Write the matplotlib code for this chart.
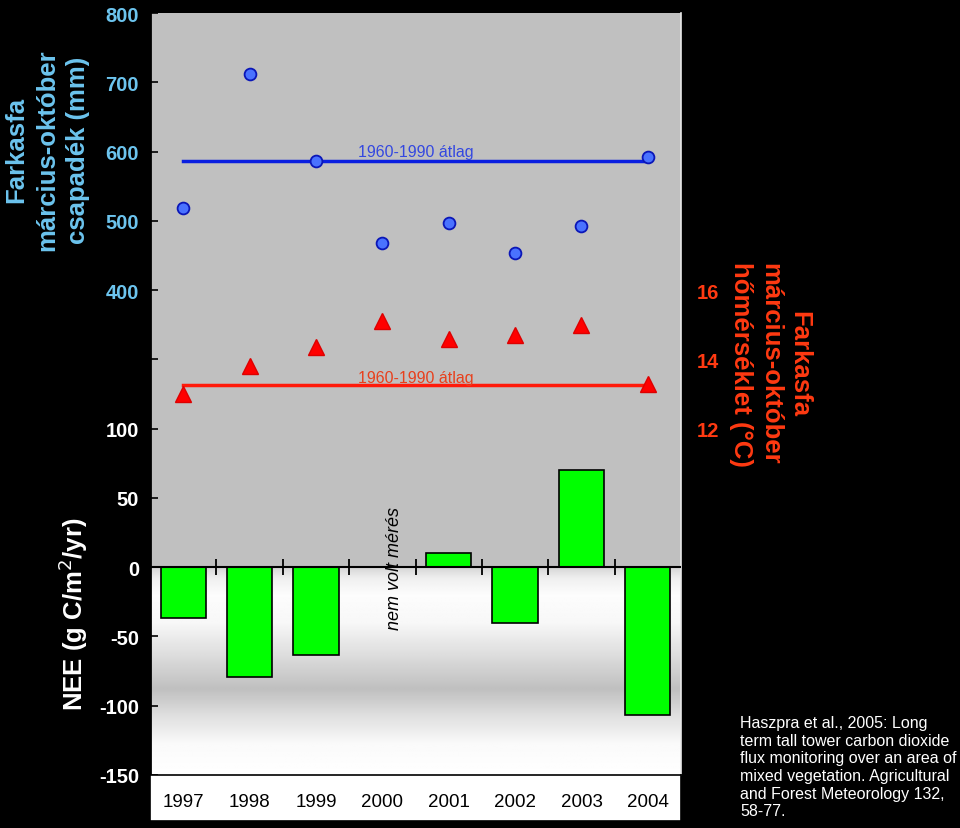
import matplotlib.pyplot as plt
import numpy as np

plt.rcParams['font.family'] = ['Liberation Sans', 'DejaVu Sans']

# adatok (leolvasva az abrarol)
years = [1997, 1998, 1999, 2000, 2001, 2002, 2003, 2004]
nee = [-37, -79, -63.5, np.nan, 10, -40, 70, -107]          # g C/m2/yr
precip = [518, 712, 586, 468, 497, 453, 492, 592]          # mm
temp = [13.0, 13.8, 14.35, 15.1, 14.6, 14.7, 15.0, 13.3]   # °C
precip_avg = 586
temp_avg = 13.25

nee_ticks = [-150, -100, -50, 0, 50, 100, 150, 200, 250, 300, 350, 400]
nee_labels = ['-150', '-100', '-50', '0', '50', '100', '', '400', '500', '600', '700', '800']
temp_ticks = [12, 14, 16]

lightblue = '#6cc4ee'
orange = '#ff3a12'

W, H = 960, 829
fig = plt.figure(figsize=(W / 100, H / 100), dpi=100, facecolor='black')

x0, x1 = 150, 681
ytop, ybot = 14, 776
ax = fig.add_axes([x0 / W, 1 - ybot / H, (x1 - x0) / W, (ybot - ytop) / H])
ax.set_facecolor('#c0c0c0')
ax.set_xlim(1996.5, 2004.5)
ax.set_ylim(-150, 400)

# atmenetes hatter a nulla alatt
stops_v = [0, -8, -20, -40, -65, -88, -108, -128, -150]
stops_g = [0.84, 0.94, 0.99, 0.97, 0.86, 0.75, 0.88, 0.98, 1.0]
vv = np.linspace(0, -150, 200)
col = np.interp(-vv, [-s for s in stops_v], stops_g)
img = np.repeat(col[:, None], 2, axis=1)
ax.imshow(img, cmap='gray', vmin=0, vmax=1, aspect='auto',
          extent=(1996.5, 2004.5, -150, 0), zorder=0, interpolation='bilinear')

ax.bar(years, nee, width=0.68, color='#00ff00', edgecolor='black', lw=1.2, zorder=3)
ax.axhline(0, color='black', lw=1.5, zorder=4)
bounds = [y + 0.5 for y in years[:-1]]
ax.plot(bounds, [0] * len(bounds), ls='none', marker='|', ms=11, mew=1.3,
        color='black', zorder=4)

ax.text(2000.18, 0, 'nem volt mérés', rotation=90, style='italic', fontsize=13,
        ha='center', va='center', color='black', zorder=5)

ax.set_xticks([])
ax.set_yticks(nee_ticks)
ax.set_yticklabels(nee_labels, fontsize=14.5, fontweight='bold')
for lbl, v in zip(ax.get_yticklabels(), nee_ticks):
    lbl.set_color(lightblue if v >= 200 else 'white')
ax.tick_params(axis='y', direction='in', length=6, width=1.2, color='black',
               right=True, pad=8)
for s in ['top', 'bottom']:
    ax.spines[s].set_visible(False)
ax.spines['left'].set_color('black')
ax.spines['left'].set_linewidth(2)
ax.spines['right'].set_color('#e8e8e8')
ax.spines['right'].set_linewidth(1.2)

# csapadek tengely
axp = ax.twinx()
axp.set_ylim(-300, 800)
axp.set_yticks([])
for s in axp.spines.values():
    s.set_visible(False)
axp.plot([years[0], years[-1]], [precip_avg, precip_avg], color='#0a1fe0', lw=2.5, zorder=2)
axp.plot(years, precip, ls='none', marker='o', ms=8.5, mfc='#4a72ff', mec='#0a16b8',
         mew=1.3, zorder=3)
axp.text(2000.5, precip_avg + 3, '1960-1990 átlag', color='#3448e0', fontsize=11.5,
         ha='center', va='bottom')

# homerseklet tengely
axt = ax.twinx()
axt.set_ylim(2, 24)
axt.set_yticks(temp_ticks)
axt.set_yticklabels([str(t) for t in temp_ticks], fontsize=14.5, fontweight='bold', color=orange)
axt.tick_params(axis='y', length=0, pad=11)
for s in axt.spines.values():
    s.set_visible(False)
axt.plot([years[0], years[-1]], [temp_avg, temp_avg], color='#ff1a0a', lw=2.5, zorder=2)
axt.plot(years, temp, ls='none', marker='^', ms=11, color='#ff0000', mec='#dd0000', zorder=3)
axt.text(2000.5, temp_avg + 0.02, '1960-1990 átlag', color='#e8401c', fontsize=11.5,
         ha='center', va='bottom')

# evek doboza
axy = fig.add_axes([x0 / W, 1 - 822 / H, (x1 - x0) / W, (822 - 776) / H])
axy.set_facecolor('white')
axy.set_xlim(1996.5, 2004.5)
axy.set_ylim(0, 1)
axy.set_xticks([])
axy.set_yticks([])
for s in axy.spines.values():
    s.set_color('black')
    s.set_linewidth(1.2)
for y in years:
    axy.text(y, 0.42, str(y), ha='center', va='center', fontsize=13.5, color='black')

# tengelyfeliratok
fig.text(47 / W, 1 - 150 / H, 'Farkasfa\nmárcius-október\ncsapadék (mm)', rotation=90,
         ha='center', va='center', color=lightblue, fontsize=18.5, fontweight='bold',
         linespacing=1.38, multialignment='center')
fig.text(73 / W, 1 - 614 / H, 'NEE (g C/m$^2$/yr)', rotation=90, ha='center', va='center',
         color='white', fontsize=18.5, fontweight='bold')
fig.text(770 / W, 1 - 364 / H, 'Farkasfa\nmárcius-október\nhőmérséklet (°C)', rotation=-90,
         ha='center', va='center', color=orange, fontsize=18.5, fontweight='bold',
         linespacing=1.25, multialignment='center')

fig.text(740 / W, 1 - 716 / H,
         'Haszpra et al., 2005: Long\nterm tall tower carbon dioxide\n'
         'flux monitoring over an area of\nmixed vegetation. Agricultural\n'
         'and Forest Meteorology 132,\n58-77.',
         ha='left', va='top', color='white', fontsize=11.5, linespacing=1.22)

fig.savefig('out.png', dpi=100, facecolor='black')
